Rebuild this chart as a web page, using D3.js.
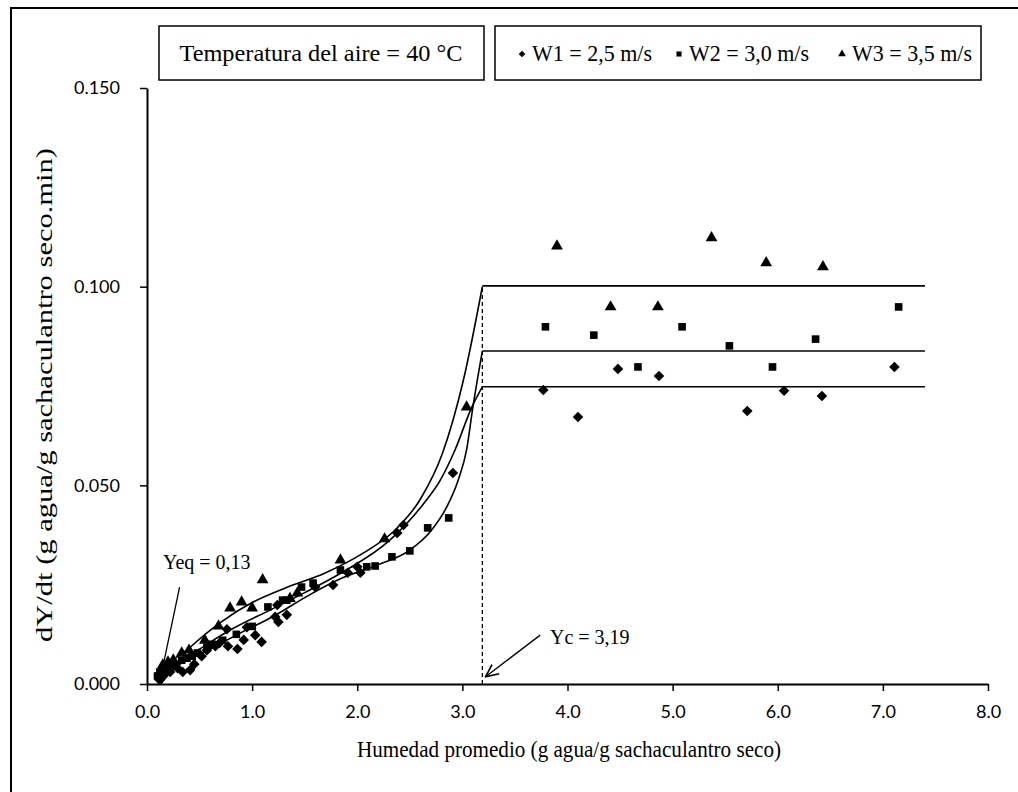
<!DOCTYPE html>
<html lang="es">
<head>
<meta charset="UTF-8">
<title>Velocidad de secado - sachaculantro</title>
<script src="https://d3js.org/d3.v7.min.js"></script>
<style>
    body { margin: 0; background: #fff; }
    svg { display: block; }
    .serif { font-family: "Liberation Serif", "Times New Roman", serif; fill: #000; }
    .tick text { font-family: Lato, "Liberation Sans Narrow", sans-serif; font-size: 18px; fill: #000; }
    .axis path, .axis line { stroke: #000; }
    .axis path { stroke-width: 2; }
    .axis line { stroke-width: 1.5; }
</style>
</head>
<body>
<svg id="chart" width="1018" height="792"></svg>
<script>
    // --- data (x = humedad promedio, y = dY/dt) ---
    const w1Points = [
        [0.12, 0.0010], [0.16, 0.0025], [0.22, 0.0030], [0.29, 0.0040], [0.34, 0.0030], [0.41, 0.0035],
        [0.45, 0.0050], [0.52, 0.0070], [0.57, 0.0085], [0.65, 0.0095], [0.69, 0.0103], [0.77, 0.0095],
        [0.86, 0.0088], [0.92, 0.0111], [1.03, 0.0123], [1.09, 0.0106], [0.76, 0.0138], [0.95, 0.0143],
        [1.22, 0.0169], [1.25, 0.0156], [1.33, 0.0174], [1.24, 0.0199], [1.60, 0.0244], [1.77, 0.0249],
        [1.91, 0.0280], [2.03, 0.0280], [2.00, 0.0295], [2.38, 0.0380], [2.44, 0.0400], [2.91, 0.0531],
        [3.77, 0.0740], [4.10, 0.0672], [4.48, 0.0793], [4.87, 0.0775], [5.71, 0.0687], [6.06, 0.0738],
        [6.42, 0.0725], [7.11, 0.0798]
    ];
    const w2Points = [
        [0.10, 0.0020], [0.14, 0.0030], [0.19, 0.0040], [0.25, 0.0045], [0.33, 0.0060], [0.38, 0.0065],
        [0.43, 0.0070], [0.48, 0.0078], [0.57, 0.0093], [0.62, 0.0100], [0.72, 0.0110], [0.85, 0.0125],
        [1.00, 0.0145], [1.15, 0.0194], [1.29, 0.0211], [1.33, 0.0211], [1.47, 0.0244], [1.58, 0.0254],
        [1.84, 0.0287], [2.09, 0.0295], [2.17, 0.0297], [2.33, 0.0320], [2.50, 0.0335], [2.67, 0.0393],
        [2.87, 0.0418],
        [3.79, 0.0899], [4.25, 0.0878], [4.67, 0.0798], [5.09, 0.0899], [5.54, 0.0851], [5.95, 0.0798],
        [6.36, 0.0868], [7.15, 0.0949]
    ];
    const w3Points = [
        [0.12, 0.0030], [0.15, 0.0048], [0.20, 0.0055], [0.25, 0.0060], [0.33, 0.0078], [0.40, 0.0085],
        [0.55, 0.0110], [0.68, 0.0146], [0.79, 0.0191], [0.90, 0.0206], [1.00, 0.0191], [1.10, 0.0262],
        [1.36, 0.0215], [1.43, 0.0229], [1.84, 0.0312], [2.26, 0.0365], [3.04, 0.0697],
        [3.90, 0.1102], [4.41, 0.0949], [4.86, 0.0949], [5.37, 0.1123], [5.89, 0.1060], [6.43, 0.1050]
    ];

    // fitted falling-rate curves, then constant-rate plateaus
    const curveTop = [[0.13, 0], [0.20, 0.0040], [0.40, 0.0090], [0.70, 0.0155], [1.00, 0.0205], [1.30, 0.0240],
        [1.70, 0.0280], [2.06, 0.0330], [2.35, 0.0385], [2.60, 0.0465], [2.81, 0.0580], [3.01, 0.0765], [3.19, 0.1000]];
    const curveMid = [[0.13, 0], [0.20, 0.0030], [0.53, 0.0093], [0.80, 0.0137], [1.17, 0.0186], [1.50, 0.0230],
        [1.85, 0.0280], [2.31, 0.0362], [2.62, 0.0450], [2.79, 0.0513], [2.93, 0.0589], [3.09, 0.0697], [3.19, 0.0748]];
    const curveLow = [[0.13, 0], [0.22, 0.0028], [0.63, 0.0092], [0.90, 0.0130], [1.20, 0.0170], [1.55, 0.0225],
        [1.85, 0.0266], [2.20, 0.0300], [2.50, 0.0337], [2.70, 0.0385], [2.85, 0.0445], [2.96, 0.0513],
        [3.04, 0.0589], [3.10, 0.0697], [3.19, 0.0838]];
    const plateaus = [0.1002, 0.0838, 0.0748];

    const xc = 3.19;        // humedad critica
    const xEnd = 7.40;      // end of plateau lines
    const xTicks = [0, 1, 2, 3, 4, 5, 6, 7, 8];
    const yTicks = [0, 0.05, 0.10, 0.15];

    const legendItems = [
        { label: "W1 = 2,5 m/s", shape: "diamond" },
        { label: "W2 = 3,0 m/s", shape: "square" },
        { label: "W3 = 3,5 m/s", shape: "triangle" }
    ];

    const svg = d3.select("#chart");

    const x = d3.scaleLinear().domain([0, 8]).range([147, 988]);
    const y = d3.scaleLinear().domain([0, 0.15]).range([684, 88]);

    // outer frame (top and left edges visible)
    svg.append("path")
        .attr("d", "M11,792 L11,8 L1018,8")
        .attr("fill", "none").attr("stroke", "#000").attr("stroke-width", 2);

    const defs = svg.append("defs");
    defs.append("marker")
        .attr("id", "arrow")
        .attr("markerUnits", "userSpaceOnUse")
        .attr("viewBox", "0 0 12 12")
        .attr("markerWidth", 14).attr("markerHeight", 14)
        .attr("refX", 11).attr("refY", 6)
        .attr("orient", "auto")
        .append("path")
        .attr("d", "M0,1 L11,6 L0,11")
        .attr("fill", "none").attr("stroke", "#000").attr("stroke-width", 1.4);

    // axes
    svg.append("g")
        .attr("class", "axis")
        .attr("transform", `translate(0,${y(0)})`)
        .call(d3.axisBottom(x).tickValues(xTicks).tickFormat(d3.format(".1f")).tickSize(7).tickSizeOuter(0).tickPadding(14));

    svg.append("g")
        .attr("class", "axis")
        .attr("transform", `translate(${x(0)},0)`)
        .call(d3.axisLeft(y).tickValues(yTicks).tickFormat(d3.format(".3f")).tickSize(7).tickSizeOuter(0).tickPadding(20));

    // axis titles
    svg.append("text")
        .attr("class", "serif")
        .attr("x", 357).attr("y", 757)
        .attr("font-size", 23)
        .attr("textLength", 424).attr("lengthAdjust", "spacingAndGlyphs")
        .text("Humedad promedio (g agua/g sachaculantro seco)");

    svg.append("text")
        .attr("class", "serif")
        .attr("transform", "translate(52,642) rotate(-90)")
        .attr("font-size", 24)
        .attr("textLength", 494).attr("lengthAdjust", "spacingAndGlyphs")
        .text("dY/dt (g agua/g sachaculantro seco.min)");

    // plateaus and critical moisture line
    svg.selectAll(".plateau")
        .data(plateaus)
        .enter().append("line")
        .attr("class", "plateau")
        .attr("x1", x(xc)).attr("x2", x(xEnd))
        .attr("y1", d => y(d)).attr("y2", d => y(d))
        .attr("stroke", "#000").attr("stroke-width", 1.6);

    svg.append("line")
        .attr("x1", x(xc)).attr("x2", x(xc))
        .attr("y1", y(0)).attr("y2", y(plateaus[0]))
        .attr("stroke", "#000").attr("stroke-width", 1.3)
        .attr("stroke-dasharray", "4,3");

    const line = d3.line()
        .x(d => x(d[0])).y(d => y(d[1]))
        .curve(d3.curveMonotoneX);

    svg.selectAll(".fit")
        .data([curveTop, curveMid, curveLow])
        .enter().append("path")
        .attr("class", "fit")
        .attr("d", line)
        .attr("fill", "none").attr("stroke", "#000").attr("stroke-width", 1.6);

    // markers
    const shapes = {
        diamond: d3.symbol().type(d3.symbolSquare).size(56),
        square: d3.symbol().type(d3.symbolSquare).size(58),
        triangle: d3.symbol().type(d3.symbolTriangle).size(60)
    };

    function drawSeries(data, shape) {
        svg.append("g").selectAll("path")
            .data(data)
            .enter().append("path")
            .attr("d", shapes[shape])
            .attr("transform", d => `translate(${x(d[0])},${y(d[1])})` + (shape === "diamond" ? " rotate(45)" : ""))
            .attr("fill", "#000");
    }
    drawSeries(w1Points, "diamond");
    drawSeries(w2Points, "square");
    drawSeries(w3Points, "triangle");

    // annotations
    svg.append("text").attr("class", "serif")
        .attr("x", 163).attr("y", 569).attr("font-size", 20)
        .text("Yeq = 0,13");
    svg.append("line")
        .attr("x1", x(0.31)).attr("y1", y(0.0244))
        .attr("x2", x(0.12)).attr("y2", y(0.0005))
        .attr("stroke", "#000").attr("stroke-width", 1.3)
        .attr("marker-end", "url(#arrow)");

    svg.append("text").attr("class", "serif")
        .attr("x", 550).attr("y", 644).attr("font-size", 20)
        .text("Yc = 3,19");
    svg.append("line")
        .attr("x1", x(3.74)).attr("y1", y(0.0123))
        .attr("x2", x(3.22)).attr("y2", y(0.0018))
        .attr("stroke", "#000").attr("stroke-width", 1.3)
        .attr("marker-end", "url(#arrow)");

    // header boxes
    svg.append("rect")
        .attr("x", 159).attr("y", 26).attr("width", 325).attr("height", 54)
        .attr("fill", "#fff").attr("stroke", "#000").attr("stroke-width", 1.5);
    svg.append("text").attr("class", "serif")
        .attr("x", 321).attr("y", 61).attr("text-anchor", "middle").attr("font-size", 23)
        .attr("textLength", 283).attr("lengthAdjust", "spacingAndGlyphs")
        .text("Temperatura del aire = 40 °C");

    svg.append("rect")
        .attr("x", 495).attr("y", 26).attr("width", 486).attr("height", 54)
        .attr("fill", "#fff").attr("stroke", "#000").attr("stroke-width", 1.5);

    const legendX = [522, 679, 842];
    const legendSymbols = {
        diamond: d3.symbol().type(d3.symbolSquare).size(22),
        square: d3.symbol().type(d3.symbolSquare).size(26),
        triangle: d3.symbol().type(d3.symbolTriangle).size(26)
    };
    const legend = svg.append("g").selectAll("g")
        .data(legendItems)
        .enter().append("g")
        .attr("transform", (d, i) => `translate(${legendX[i]},54)`);
    legend.append("path")
        .attr("d", d => legendSymbols[d.shape]())
        .attr("transform", d => d.shape === "diamond" ? "rotate(45)" : null)
        .attr("fill", "#000");
    legend.append("text").attr("class", "serif")
        .attr("x", 10).attr("y", 7).attr("font-size", 23)
        .attr("textLength", 120).attr("lengthAdjust", "spacingAndGlyphs")
        .text(d => d.label);
</script>
</body>
</html>
